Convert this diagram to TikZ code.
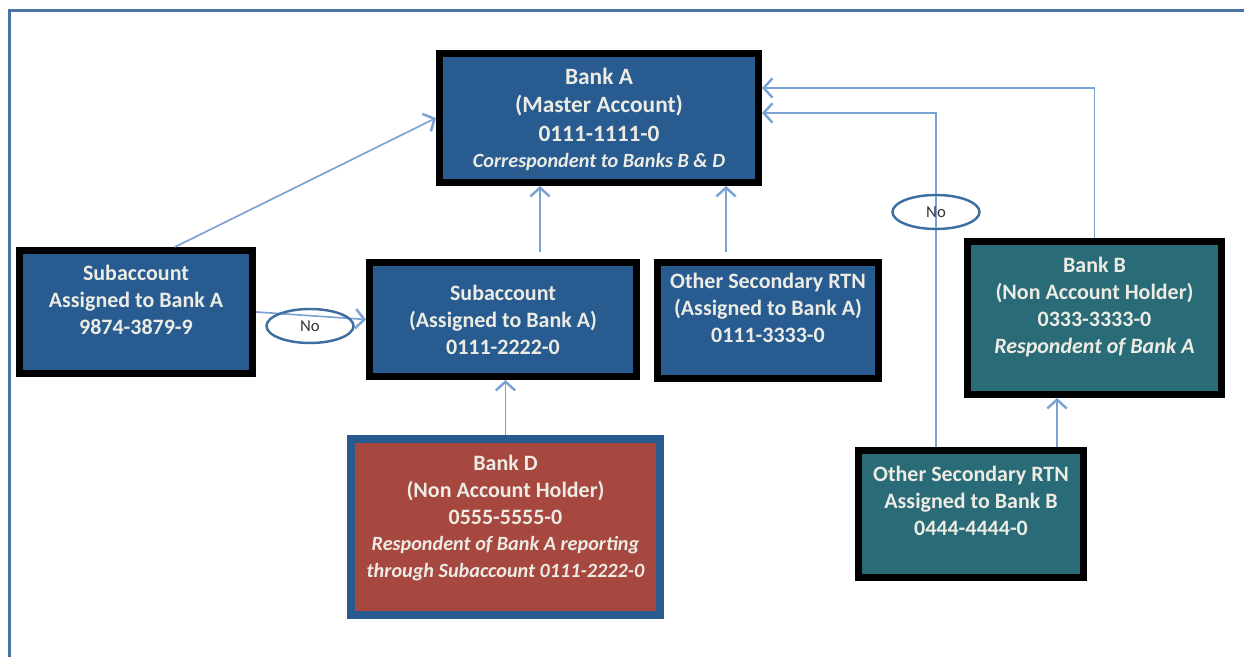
\documentclass[tikz,border=0pt]{standalone}
\usepackage{fontspec}
\setmainfont{Carlito}
\usepackage{tikz}
\usetikzlibrary{positioning, shapes, arrows.meta, calc}
\definecolor{acctblue}{RGB}{40,91,143}
\definecolor{acctteal}{RGB}{42,107,120}
\definecolor{acctred}{RGB}{166,71,64}
\definecolor{linkblue}{RGB}{122,162,210}
\definecolor{ovalblue}{RGB}{62,110,160}
\definecolor{frameblue}{RGB}{74,114,163}
\definecolor{boxtxt}{RGB}{236,236,228}
\tikzstyle{acct}=[rectangle, draw=black, line width=4pt, fill=acctblue]
\tikzstyle{resp}=[acct, fill=acctteal]
\tikzstyle{nonholder}=[rectangle, draw=acctblue, line width=4.5pt, fill=acctred]
\tikzstyle{txt}=[align=center, text=boxtxt, inner sep=0pt, font=\bfseries\fontsize{12.5}{15.4}\selectfont]
\tikzstyle{link}=[draw=linkblue, line width=0.95pt, -{Straight Barb[length=5pt,width=11pt,line width=1.4pt]}]
\tikzstyle{nope}=[ellipse, draw=ovalblue, line width=1.4pt, minimum width=1.74cm, minimum height=0.68cm, text=black!80, font=\fontsize{9.5}{11}\selectfont]

\begin{document}
\begin{tikzpicture}
                \useasboundingbox (0,0) rectangle (24.88,13.14);
                % Cadre
                \draw[frameblue, line width=0.066cm] (0.194,0) -- (0.194,12.93) -- (24.88,12.93);

                % Comptes
                \node[acct, minimum width=6.38cm, minimum height=2.58cm] (bankA) at (11.98,10.78) {};
                \node[acct, minimum width=4.66cm, minimum height=2.46cm] (subLeft) at (2.72,6.9) {};
                \node[acct, minimum width=5.34cm, minimum height=2.28cm] (subA) at (10.06,6.75) {};
                \node[acct, minimum width=4.42cm, minimum height=2.32cm] (rtnA) at (15.36,6.73) {};
                \node[resp, minimum width=5.08cm, minimum height=3.06cm] (bankB) at (21.89,6.78) {};
                \node[nonholder, minimum width=6.18cm, minimum height=3.52cm] (bankD) at (10.11,2.6) {};
                \node[resp, minimum width=4.5cm, minimum height=2.54cm] (rtnB) at (19.42,2.86) {};

                % Textes
                \node[txt, font=\bfseries\fontsize{13.3}{16.2}\selectfont] (bankAtxt) at ([yshift=-0.03cm]bankA.center)
                    {Bank A\\(Master Account)\\0111-1111-0\\[-1pt]\fontsize{11.5}{13}\selectfont\itshape Correspondent to Banks B \& D};
                \node[txt] (subLefttxt) at ([yshift=0.24cm]subLeft.center) {Subaccount\\Assigned to Bank A\\9874-3879-9};
                \node[txt] (subAtxt) at (subA.center) {Subaccount\\(Assigned to Bank A)\\0111-2222-0};
                \node[txt] (rtnAtxt) at ([yshift=0.25cm]rtnA.center) {Other Secondary RTN\\(Assigned to Bank A)\\0111-3333-0};
                \node[txt] (bankBtxt) at ([yshift=0.22cm]bankB.center) {Bank B\\(Non Account Holder)\\0333-3333-0\\\textit{Respondent of Bank A}};
                \node[txt] (bankDtxt) at ([yshift=0.18cm]bankD.center) {Bank D\\(Non Account Holder)\\0555-5555-0\\[-1pt]
                    \fontsize{11.5}{14.2}\selectfont\itshape Respondent of Bank A reporting\\\fontsize{11.5}{14.2}\selectfont\itshape through Subaccount 0111-2222-0};
                \node[txt] (rtnBtxt) at ([yshift=0.26cm]rtnB.center) {Other Secondary RTN\\Assigned to Bank B\\0444-4444-0};

                % Fleches
                \coordinate (subLefttop) at ($(subLeft.north)+(0.78,0)$);
                \coordinate (subAtop) at ($(subA.north)+(0.74,0)$);
                \coordinate (rtnAtop) at ($(rtnA.north)+(-0.84,0)$);
                \coordinate (rtnBtop) at ($(rtnB.north)+(-0.7,0)$);
                \coordinate (rtnBtop2) at ($(rtnB.north)+(1.72,0)$);
                \coordinate (bankBin) at ($(bankA.east)+(0,0.6)$);
                \coordinate (rtnBin) at ($(bankA.east)+(0,0.1)$);
                \draw[link] (subLefttop) -- (bankA.west);
                \draw[link] (subLeft.east) -- (subA.west);
                \draw[link, shorten <=0.14cm] (subAtop) -- (subAtop |- bankA.south);
                \draw[link, shorten <=0.14cm] (rtnAtop) -- (rtnAtop |- bankA.south);
                \draw[link] (bankD.north) -- (bankD.north |- subA.south);
                \draw[link] (bankB.north) |- (bankBin);
                \draw[link] (rtnBtop) |- (rtnBin);
                \draw[link] (rtnBtop2) -- (rtnBtop2 |- bankB.south);

                % Refus
                \node[nope] (noLeft) at (6.2,6.62) {No};
                \node[nope] (noRight) at (18.72,8.9) {No};
\end{tikzpicture}
\end{document}
